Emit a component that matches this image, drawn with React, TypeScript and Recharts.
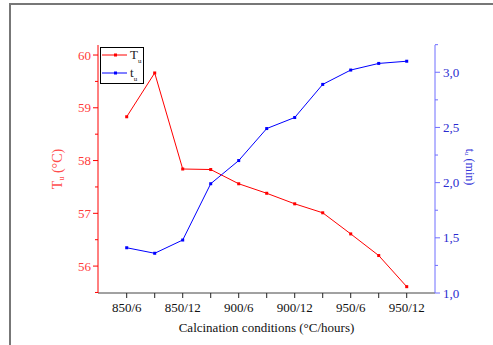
import { LineChart, Line, XAxis, YAxis, Legend } from 'recharts';

// condition labels (only every second tick is labelled in the original)
const CONDITIONS = ['850/6', '', '850/12', '', '900/6', '', '900/12', '', '950/6', '', '950/12'];
// Tu (°C) - left axis
const TU_VALUES = [58.83, 59.66, 57.84, 57.83, 57.56, 57.38, 57.18, 57.01, 56.61, 56.2, 55.61];
// tu (min) - right axis
const TIME_VALUES = [1.41, 1.36, 1.48, 1.99, 2.2, 2.49, 2.59, 2.89, 3.02, 3.08, 3.1];

const LEFT_TICKS = [55.5, 56, 56.5, 57, 57.5, 58, 58.5, 59, 59.5, 60];
const RIGHT_TICKS = [1, 1.25, 1.5, 1.75, 2, 2.25, 2.5, 2.75, 3, 3.25];
const X_TICKS = CONDITIONS.map((_, i) => i);

const FONT = '"Liberation Serif", "DejaVu Serif", serif';
const RED = '#ff0000';
const BLUE = '#0000ff';

const data = CONDITIONS.map((c, i) => ({
    idx: i,
    cond: c,
    tu: TU_VALUES[i],
    time: TIME_VALUES[i],
}));

// small square markers like the Origin plot
function SquareDot(color: string) {
    return (props: any) => {
        const { cx, cy, index } = props;
        if (cx == null || cy == null) return null;
        return <rect key={index} x={cx - 1.5} y={cy - 1.5} width={3} height={3} fill={color} />;
    };
}

// left axis tick: longer line on integers, short on halves, label on integers
function LeftTick(props: any) {
    const { x, y, payload } = props;
    const axisX = x + 4 + 3;
    const major = Number.isInteger(payload.value);
    return (
        <g>
            <line x1={axisX} x2={axisX - (major ? 5 : 3)} y1={y} y2={y} stroke={RED} />
            {major && (
                <text x={x} y={y} dy="0.35em" textAnchor="end" fill="#ff3b3b"
                    style={{ fontSize: 13, fontFamily: FONT }}>
                    {payload.value}
                </text>
            )}
        </g>
    );
}

function RightTick(props: any) {
    const { x, y, payload } = props;
    const axisX = x - 4 - 4;
    const major = Math.abs(payload.value * 2 - Math.round(payload.value * 2)) < 1e-6;
    return (
        <g>
            <line x1={axisX} x2={axisX + (major ? 5 : 3)} y1={y} y2={y} stroke="#6f6fff" />
            {major && (
                <text x={x} y={y} dy="0.35em" textAnchor="start" fill="#2b2bd0"
                    style={{ fontSize: 13, fontFamily: FONT }}>
                    {payload.value.toFixed(1).replace('.', ',')}
                </text>
            )}
        </g>
    );
}

function BottomTick(props: any) {
    const { x, y, payload } = props;
    return (
        <text x={x} y={y} dy="0.75em" textAnchor="middle" fill="#111"
            style={{ fontSize: 13, fontFamily: FONT }}>
            {CONDITIONS[payload.value] ?? ''}
        </text>
    );
}

function LeftTitle(props: any) {
    const { viewBox } = props;
    const cx = viewBox.x + 19;
    const cy = viewBox.y + viewBox.height / 2;
    return (
        <text x={cx} y={cy} transform={`rotate(-90 ${cx} ${cy})`} textAnchor="middle" dominantBaseline="central"
            fill="#ff4d4d" style={{ fontSize: 14, fontFamily: FONT }}>
            T<tspan style={{ fontSize: 8 }} dy={4}>u</tspan><tspan dy={-4}> (°C)</tspan>
        </text>
    );
}

function RightTitle(props: any) {
    const { viewBox } = props;
    const cx = viewBox.x + 35;
    const cy = viewBox.y + viewBox.height / 2 - 2;
    return (
        <text x={cx} y={cy} transform={`rotate(90 ${cx} ${cy})`} textAnchor="middle" dominantBaseline="central"
            fill="#3434d9" style={{ fontSize: 12, fontFamily: FONT }}>
            t<tspan style={{ fontSize: 7 }} dy={3}>u</tspan><tspan dy={-3}> (min)</tspan>
        </text>
    );
}

function BottomTitle(props: any) {
    const { viewBox } = props;
    return (
        <text x={viewBox.x + viewBox.width / 2} y={viewBox.y + 39} textAnchor="middle"
            fill="#111" style={{ fontSize: 13, fontFamily: FONT }}>
            Calcination conditions (°C/hours)
        </text>
    );
}

function LegendBox() {
    const items = [
        { main: 'T', sub: 'u', color: RED },
        { main: 't', sub: 'u', color: BLUE },
    ];
    return (
        <div style={{ width: 44, height: 37, border: '1px solid #000', background: '#fff', boxSizing: 'border-box' }}>
            <svg width={42} height={35} style={{ display: 'block' }}>
                {items.map((it, i) => {
                    const y = 7 + i * 18;
                    return (
                        <g key={i}>
                            <line x1={1} x2={26} y1={y} y2={y} stroke={it.color} />
                            <rect x={13} y={y - 1.5} width={3} height={3} fill={it.color} />
                            <text x={29} y={y + 4} fill="#222" style={{ fontSize: 13, fontFamily: FONT }}>
                                {it.main}<tspan style={{ fontSize: 7 }} dy={4}>{it.sub}</tspan>
                            </text>
                        </g>
                    );
                })}
            </svg>
        </div>
    );
}

export default function App() {
    return (
        <div style={{ position: 'absolute', left: 0, top: 0, width: 493, height: 345, overflow: 'hidden', background: '#fff' }}>
            {/* outer frame of the exported figure */}
            <div style={{
                position: 'absolute', left: 9, top: 3, width: 700, height: 700,
                borderTop: '2px solid #777', borderLeft: '2px solid #777'
            }} />
            <div style={{ position: 'absolute', left: 0, top: 0 }}>
                <LineChart width={493} height={345} data={data}
                    margin={{ top: 45, right: 8, bottom: 0, left: 38 }}>
                    <XAxis xAxisId="bottom" dataKey="idx" type="number" domain={[-1.025, 11.01]}
                        ticks={X_TICKS} allowDataOverflow height={52} tickSize={5} tickMargin={4}
                        stroke="#444" tickLine={{ stroke: '#222' }}
                        tick={<BottomTick />} label={<BottomTitle />} />
                    <XAxis xAxisId="top" orientation="top" dataKey="idx" type="number" domain={[-1.025, 11.01]}
                        ticks={X_TICKS} tickFormatter={() => ''} allowDataOverflow height={0}
                        mirror tickSize={3} stroke="#333" />
                    <YAxis yAxisId="left" domain={[55.49, 60.19]} ticks={LEFT_TICKS} allowDataOverflow
                        width={60} tickSize={4} tickMargin={3} tickLine={false} stroke={RED}
                        tick={<LeftTick />} label={<LeftTitle />} />
                    <YAxis yAxisId="right" orientation="right" domain={[1.0, 3.247]} ticks={RIGHT_TICKS}
                        allowDataOverflow width={50} tickSize={4} tickMargin={4} tickLine={false}
                        stroke="#6f6fff" tick={<RightTick />} label={<RightTitle />} />
                    <Legend layout="vertical" align="center" verticalAlign="middle" content={<LegendBox />}
                        wrapperStyle={{ left: 100, top: 47, width: 44, height: 37 }} />
                    <Line xAxisId="bottom" yAxisId="left" dataKey="tu" name="Tu" stroke={RED} strokeWidth={1}
                        dot={SquareDot(RED)} activeDot={false} isAnimationActive={false} />
                    <Line xAxisId="bottom" yAxisId="right" dataKey="time" name="tu" stroke={BLUE} strokeWidth={1}
                        dot={SquareDot(BLUE)} activeDot={false} isAnimationActive={false} />
                </LineChart>
            </div>
        </div>
    );
}
